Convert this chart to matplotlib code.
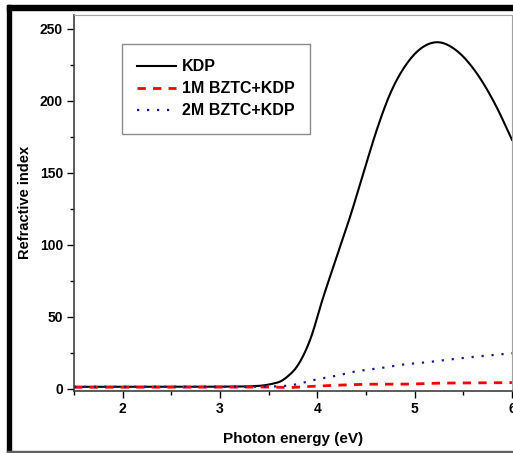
import matplotlib
matplotlib.use('Agg')
import matplotlib.pyplot as plt
from matplotlib.patches import Rectangle
from matplotlib.ticker import MultipleLocator
import numpy as np

plt.rcParams['font.family'] = ['Liberation Sans', 'DejaVu Sans']
plt.rcParams['font.weight'] = 'bold'

# values
energy_kdp = [1.5, 2.0, 2.5, 3.0, 3.3, 3.45, 3.55, 3.62, 3.7, 3.79, 3.925, 4.062, 4.2, 4.337,
              4.473, 4.611, 4.748, 4.92, 5.09, 5.228, 5.43, 5.64, 5.84, 6.0]
kdp = [1.5, 1.5, 1.5, 1.6, 1.8, 2.5, 3.8, 5.2, 9.0, 15.5, 34, 64, 92, 119.7,
       149.8, 180, 205, 226, 237.7, 240.8, 235, 219, 196, 173]

energy_1m = [1.5, 2.0, 2.5, 3.0, 3.4, 3.6, 3.7, 3.8, 4.0, 4.47, 5.0, 5.16, 5.6, 6.0]
bztc_1m = [1.2, 1.2, 1.2, 1.3, 1.4, 1.2, 0.9, 1.3, 2.0, 3.2, 3.5, 3.9, 4.2, 4.4]

energy_2m = [1.5, 2.0, 2.5, 3.0, 3.4, 3.6, 3.75, 3.96, 4.23, 4.34, 4.65, 4.85, 5.12, 5.4, 5.7, 6.0]
bztc_2m = [1.5, 1.5, 1.5, 1.5, 1.6, 1.8, 2.8, 6.2, 9.7, 11.5, 14.5, 16.7, 18.5, 20.8, 22.9, 24.8]

labels = ['KDP', '1M BZTC+KDP', '2M BZTC+KDP']


def smooth(xs, ys, n=400):
    # cubic hermite through the read points
    xs = np.asarray(xs, float)
    ys = np.asarray(ys, float)
    xn = np.linspace(xs[0], xs[-1], n)
    d = np.gradient(ys, xs)
    yn = np.empty_like(xn)
    for i, x in enumerate(xn):
        k = min(np.searchsorted(xs, x, side='right') - 1, len(xs) - 2)
        h = xs[k + 1] - xs[k]
        t = (x - xs[k]) / h
        h00 = 2 * t**3 - 3 * t**2 + 1
        h10 = t**3 - 2 * t**2 + t
        h01 = -2 * t**3 + 3 * t**2
        h11 = t**3 - t**2
        yn[i] = h00 * ys[k] + h10 * h * d[k] + h01 * ys[k + 1] + h11 * h * d[k + 1]
    return xn, yn


fig = plt.figure(figsize=(5.13, 4.53), dpi=100)
ax = fig.add_axes([74 / 513, 62.3 / 453, 438 / 513, 375.7 / 453])

x, y = smooth(energy_kdp, kdp)
ax.plot(x, y, color='black', lw=1.5, label=labels[0])
x, y = smooth(energy_1m, bztc_1m)
ax.plot(x, y, color='red', lw=2.0, ls=(0, (3, 2.6)), label=labels[1])
x, y = smooth(energy_2m, bztc_2m)
ax.plot(x, y, color='#1a1a8c', lw=1.6, ls=(0, (1, 3.5)), label=labels[2])

ax.set_xlim(1.5, 6.0)
ax.set_ylim(-1.2, 259.7)
ax.xaxis.set_major_locator(MultipleLocator(1))
ax.xaxis.set_minor_locator(MultipleLocator(0.5))
ax.yaxis.set_major_locator(MultipleLocator(50))
ax.yaxis.set_minor_locator(MultipleLocator(25))
ax.tick_params(which='major', direction='out', length=5, width=1, labelsize=10, pad=3)
ax.tick_params(which='minor', direction='out', length=3, width=1)
for lab in ax.get_xticklabels() + ax.get_yticklabels():
    lab.set_fontweight('bold')

for side in ['top', 'right']:
    ax.spines[side].set_color('#a0a0a0')
for side in ['left', 'bottom']:
    ax.spines[side].set_color('#404040')
    ax.spines[side].set_linewidth(1.2)

ax.set_xlabel('Photon energy (eV)', fontsize=11, fontweight='bold', labelpad=12)
ax.set_ylabel('Refractive index', fontsize=10.5, fontweight='bold')
ax.yaxis.set_label_coords(-0.095, 0.5)

leg = ax.legend(loc='upper left', bbox_to_anchor=(0.109, 0.923),
                frameon=True, fancybox=False, fontsize=11.5, handlelength=2.45,
                borderpad=0.95, labelspacing=0.45, handletextpad=0.38, borderaxespad=0)
leg.get_frame().set_edgecolor('#707070')
leg.get_frame().set_linewidth(1.0)
for t in leg.get_texts():
    t.set_fontweight('bold')

# outer frame of the picture
fig.patches.append(Rectangle((7 / 513, 0), 4 / 513, 448 / 453, transform=fig.transFigure,
                             color='black', zorder=10))
fig.patches.append(Rectangle((7 / 513, 443 / 453), 506 / 513, 5 / 453, transform=fig.transFigure,
                             color='black', zorder=10))
fig.patches.append(Rectangle((7 / 513, 0.5 / 453), 506 / 513, 1.5 / 453, transform=fig.transFigure,
                             color='#606060', zorder=10))

fig.savefig('out.png', dpi=100)
